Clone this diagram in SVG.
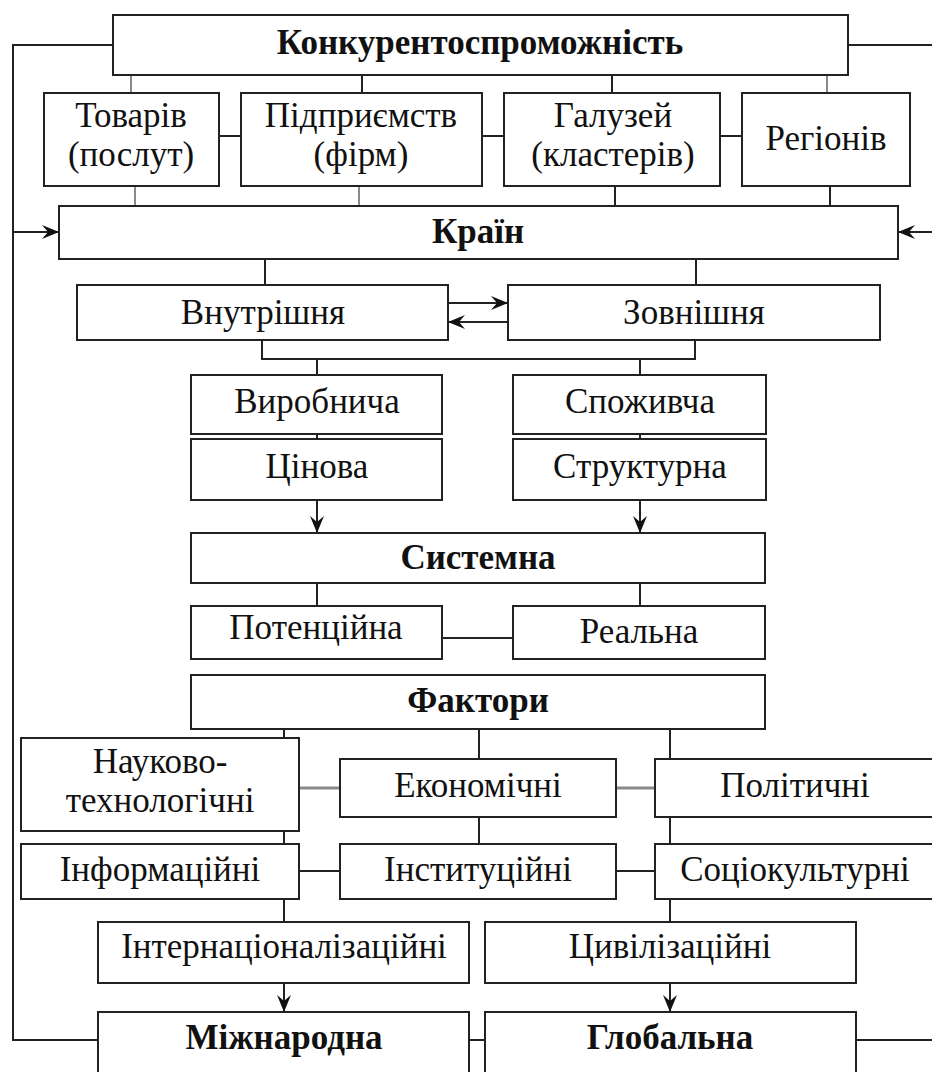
<svg xmlns="http://www.w3.org/2000/svg" width="932" height="1072" viewBox="0 0 932 1072">
<style>
.box{fill:#fff;stroke:#222;stroke-width:2}
.t{font-family:"Liberation Serif","Tinos","DejaVu Serif",serif;font-size:35px;font-weight:normal;fill:#111;text-anchor:middle}
.b{font-weight:bold;font-size:35px}
.c{stroke:#222;stroke-width:2;fill:none}
.g{stroke:#8a8a8a}
.gt{stroke:#8a8a8a;stroke-width:3}
</style>
<defs>
<marker id="ah" viewBox="0 0 17 14" refX="17" refY="7" markerWidth="17" markerHeight="14" markerUnits="userSpaceOnUse" orient="auto">
<path d="M0,0 L17,7 L0,14 L6,7 z" fill="#111"/>
</marker>
</defs>
<rect width="932" height="1072" fill="#fff"/>
<g id="connectors">
<polyline class="c" points="113,45 13,45 13,1040 98,1040"/>
<line class="c" x1="13" y1="232" x2="59" y2="232" marker-end="url(#ah)"/>
<line class="c" x1="848" y1="45" x2="932" y2="45"/>
<line class="c" x1="932" y1="232" x2="898" y2="232" marker-end="url(#ah)"/>
<line class="c" x1="856" y1="1040" x2="932" y2="1040"/>
<line class="c g" x1="131" y1="75" x2="131" y2="93"/>
<line class="c" x1="362" y1="75" x2="362" y2="93"/>
<line class="c" x1="612" y1="75" x2="612" y2="93"/>
<line class="c g" x1="827" y1="75" x2="827" y2="93"/>
<line class="c" x1="219" y1="136" x2="241" y2="136"/>
<line class="c" x1="482" y1="136" x2="504" y2="136"/>
<line class="c" x1="720" y1="136" x2="742" y2="136"/>
<line class="c g" x1="135" y1="186" x2="135" y2="206"/>
<line class="c g" x1="359" y1="186" x2="359" y2="206"/>
<line class="c" x1="615" y1="186" x2="615" y2="206"/>
<line class="c" x1="830" y1="186" x2="830" y2="206"/>
<line class="c" x1="265" y1="259" x2="265" y2="285"/>
<line class="c" x1="696" y1="259" x2="696" y2="285"/>
<line class="c" x1="448" y1="303" x2="508" y2="303" marker-end="url(#ah)"/>
<line class="c" x1="508" y1="322" x2="448" y2="322" marker-end="url(#ah)"/>
<polyline class="c" points="262,340 262,359 695,359 695,340"/>
<line class="c" x1="317" y1="359" x2="317" y2="375"/>
<line class="c" x1="640" y1="359" x2="640" y2="375"/>
<line class="c" x1="317" y1="434" x2="317" y2="439"/>
<line class="c" x1="640" y1="434" x2="640" y2="439"/>
<line class="c" x1="317" y1="500" x2="317" y2="533" marker-end="url(#ah)"/>
<line class="c" x1="640" y1="500" x2="640" y2="533" marker-end="url(#ah)"/>
<line class="c" x1="317" y1="583" x2="317" y2="606"/>
<line class="c" x1="640" y1="583" x2="640" y2="606"/>
<line class="c" x1="442" y1="638" x2="513" y2="638"/>
<line class="c" x1="284" y1="729" x2="284" y2="738"/>
<line class="c" x1="479" y1="729" x2="479" y2="759"/>
<line class="c" x1="670" y1="729" x2="670" y2="759"/>
<line class="c gt" x1="299" y1="788" x2="340" y2="788"/>
<line class="c gt" x1="616" y1="788" x2="655" y2="788"/>
<line class="c" x1="284" y1="831" x2="284" y2="844"/>
<line class="c" x1="479" y1="817" x2="479" y2="844"/>
<line class="c" x1="670" y1="817" x2="670" y2="844"/>
<line class="c" x1="299" y1="871" x2="340" y2="871"/>
<line class="c" x1="616" y1="871" x2="655" y2="871"/>
<line class="c" x1="284" y1="899" x2="284" y2="922"/>
<line class="c" x1="670" y1="899" x2="670" y2="922"/>
<line class="c" x1="284" y1="983" x2="284" y2="1012" marker-end="url(#ah)"/>
<line class="c" x1="670" y1="983" x2="670" y2="1012" marker-end="url(#ah)"/>
<line class="c" x1="469" y1="1040" x2="485" y2="1040"/>
</g>
<g id="n-konk"><rect class="box" x="113" y="15" width="735" height="60"/><text class="t b" x="480" y="54">Конкурентоспроможність</text></g>
<g id="n-tovariv"><rect class="box" x="44" y="93" width="175" height="93"/><text class="t" x="131" y="127">Товарів</text><text class="t" x="131" y="166">(послут)</text></g>
<g id="n-pidpr"><rect class="box" x="241" y="93" width="241" height="93"/><text class="t" x="361" y="127">Підприємств</text><text class="t" x="361" y="166">(фірм)</text></g>
<g id="n-haluzei"><rect class="box" x="504" y="93" width="216" height="93"/><text class="t" x="613" y="127">Галузей</text><text class="t" x="613" y="166">(кластерів)</text></g>
<g id="n-rehioniv"><rect class="box" x="742" y="93" width="168" height="93"/><text class="t" x="826" y="150">Регіонів</text></g>
<g id="n-krain"><rect class="box" x="59" y="206" width="839" height="53"/><text class="t b" x="478" y="243">Країн</text></g>
<g id="n-vnutr"><rect class="box" x="77" y="285" width="371" height="55"/><text class="t" x="263" y="324">Внутрішня</text></g>
<g id="n-zovn"><rect class="box" x="508" y="285" width="372" height="55"/><text class="t" x="694" y="324">Зовнішня</text></g>
<g id="n-vyrob"><rect class="box" x="191" y="375" width="251" height="59"/><text class="t" x="317" y="413">Виробнича</text></g>
<g id="n-tsinova"><rect class="box" x="191" y="439" width="251" height="61"/><text class="t" x="317" y="478">Цінова</text></g>
<g id="n-spozh"><rect class="box" x="513" y="375" width="253" height="59"/><text class="t" x="640" y="413">Споживча</text></g>
<g id="n-strukt"><rect class="box" x="513" y="439" width="253" height="61"/><text class="t" x="640" y="478">Структурна</text></g>
<g id="n-system"><rect class="box" x="191" y="533" width="574" height="50"/><text class="t b" x="478" y="569">Системна</text></g>
<g id="n-potents"><rect class="box" x="191" y="606" width="251" height="53"/><text class="t" x="316" y="639">Потенційна</text></g>
<g id="n-realna"><rect class="box" x="513" y="606" width="252" height="53"/><text class="t" x="639" y="643">Реальна</text></g>
<g id="n-faktory"><rect class="box" x="191" y="675" width="574" height="54"/><text class="t b" x="478" y="712">Фактори</text></g>
<g id="n-nauk"><rect class="box" x="21" y="738" width="278" height="93"/><text class="t" x="160" y="773">Науково-</text><text class="t" x="160" y="812">технологічні</text></g>
<g id="n-ekon"><rect class="box" x="340" y="759" width="276" height="58"/><text class="t" x="478" y="797">Економічні</text></g>
<g id="n-polit"><rect class="box" x="655" y="759" width="282" height="58"/><text class="t" x="795" y="797">Політичні</text></g>
<g id="n-inform"><rect class="box" x="21" y="844" width="278" height="55"/><text class="t" x="160" y="881">Інформаційні</text></g>
<g id="n-instyt"><rect class="box" x="340" y="844" width="276" height="55"/><text class="t" x="478" y="881">Інституційні</text></g>
<g id="n-sotsio"><rect class="box" x="655" y="844" width="282" height="55"/><text class="t" x="795" y="881">Соціокультурні</text></g>
<g id="n-intern"><rect class="box" x="98" y="922" width="371" height="61"/><text class="t" x="284" y="958">Інтернаціоналізаційні</text></g>
<g id="n-tsyvil"><rect class="box" x="485" y="922" width="371" height="61"/><text class="t" x="670" y="958">Цивілізаційні</text></g>
<g id="n-mizhn"><rect class="box" x="98" y="1012" width="371" height="72"/><text class="t b" x="284" y="1049">Міжнародна</text></g>
<g id="n-hlob"><rect class="box" x="485" y="1012" width="371" height="72"/><text class="t b" x="670" y="1049">Глобальна</text></g>
</svg>
